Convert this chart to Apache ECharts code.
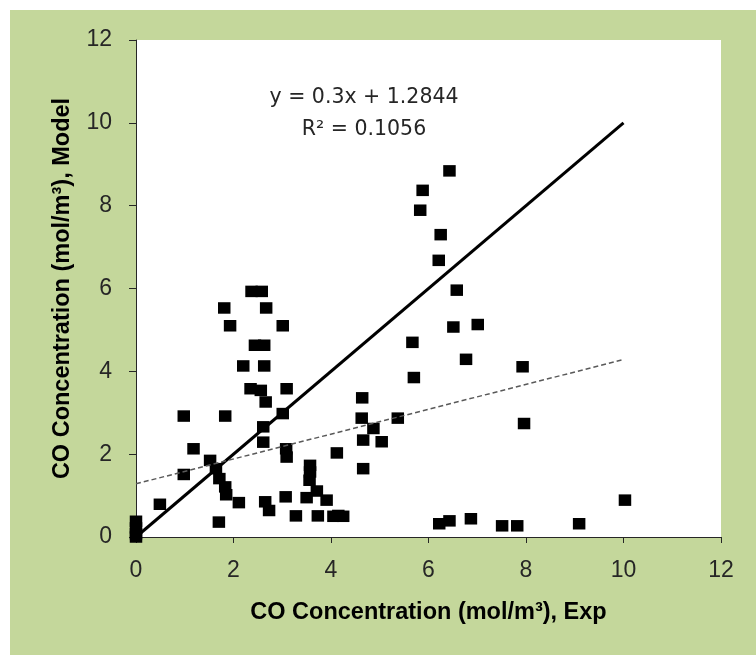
<!DOCTYPE html>
<html>
<head>
<meta charset="utf-8">
<script src="https://cdn.jsdelivr.net/npm/echarts@6/dist/echarts.min.js"></script>
<style>
  html, body { margin: 0; padding: 0; background: #ffffff; }
  #chart { width: 756px; height: 655px; }
</style>
</head>
<body>
<div id="chart"></div>
<script>
// Measured CO concentration (mol/m³) and the corresponding model prediction
const expCO = [
  0, 0, 0, 0, 0.49, 0.98, 0.98, 1.18, 1.52, 1.64,
  1.71, 1.83, 1.85, 2.11, 1.70, 1.81, 1.93, 1.83, 2.20, 2.37,
  2.58, 2.67, 2.44, 2.63, 2.63, 2.35, 2.56, 2.66, 2.61, 2.61,
  2.65, 2.73, 3.01, 3.09, 3.01, 3.08, 3.09, 3.07, 3.28, 3.57,
  3.57, 3.56, 3.50, 3.71, 3.73, 3.91, 4.05, 4.15, 4.25, 4.12,
  4.64, 4.63, 4.66, 4.66, 4.87, 5.04, 5.37, 5.67, 5.70, 6.58,
  6.51, 7.01, 6.77, 7.93, 7.96, 6.22, 6.43, 6.87, 7.51, 7.82,
  9.09, 10.03, 6.43, 5.88, 5.83, 6.25, 6.21
];
const modelCO = [
  0.38, 0.22, 0.08, 0, 0.79, 2.92, 1.51, 2.13, 1.85, 1.65,
  1.41, 1.21, 1.02, 0.83, 0.36, 5.53, 5.10, 2.92, 4.13, 5.93,
  5.93, 5.53, 4.63, 4.63, 4.13, 3.58, 3.54, 3.26, 2.66, 2.29,
  0.85, 0.64, 5.10, 3.58, 2.98, 2.13, 1.93, 0.97, 0.51, 1.73,
  1.57, 1.37, 0.95, 1.11, 0.51, 0.89, 0.50, 0.52, 0.50, 2.03,
  3.36, 2.87, 2.34, 1.65, 2.62, 2.30, 2.87, 4.70, 3.85, 5.96,
  5.07, 5.13, 4.29, 4.11, 2.74, 0.32, 0.39, 0.44, 0.27, 0.27,
  0.32, 0.89, 8.84, 8.37, 7.89, 7.30, 6.68
];

// Reference line y = x and the fitted linear trend
const parityX = [0, 10];
const trendSlope = 0.3;
const trendIntercept = 1.2844;
const trendR2 = 0.1056;
const trendX = [0, 10];

const axisTicks = [0, 2, 4, 6, 8, 10, 12];

const points = expCO.map((x, i) => [x, modelCO[i]]);
const parity = parityX.map(x => [x, x]);
const trend = trendX.map(x => [x, trendSlope * x + trendIntercept]);

const chart = echarts.init(document.getElementById('chart'), null, { renderer: 'canvas' });

const tickFont = { fontFamily: 'Liberation Sans', fontSize: 23, color: '#262626' };
const titleFont = { fontFamily: 'Liberation Sans', fontSize: 23.5, fontWeight: 'bold', color: '#000000' };
const axisLineStyle = { color: '#262626', width: 1 };

chart.setOption({
  animation: false,
  backgroundColor: '#ffffff',
  graphic: [
    {
      type: 'rect',
      z: -10,
      shape: { x: 10, y: 10, width: 746, height: 645 },
      style: { fill: '#c4d79b' }
    },
    {
      type: 'text',
      z: 10,
      x: 364,
      y: 82,
      style: {
        text: 'y = ' + trendSlope + 'x + ' + trendIntercept + '\nR² = ' + trendR2,
        fontFamily: 'DejaVu Sans',
        fontSize: 20.5,
        lineHeight: 32,
        fill: '#262626',
        align: 'center'
      }
    }
  ],
  grid: {
    left: 136, right: 35, top: 40, bottom: 118,
    show: true, backgroundColor: '#ffffff', borderWidth: 0
  },
  xAxis: {
    type: 'value', min: 0, max: 12, interval: 2,
    name: 'CO Concentration (mol/m³), Exp',
    nameLocation: 'middle', nameGap: 64,
    nameTextStyle: titleFont,
    axisLine: { show: true, onZero: false, lineStyle: axisLineStyle },
    axisTick: { show: true, length: 6, lineStyle: axisLineStyle },
    axisLabel: Object.assign({ margin: 22, formatter: v => axisTicks.includes(v) ? String(v) : '' }, tickFont),
    splitLine: { show: false }
  },
  yAxis: {
    type: 'value', min: 0, max: 12, interval: 2,
    name: 'CO Concentration (mol/m³), Model',
    nameLocation: 'middle', nameGap: 61,
    nameTextStyle: titleFont,
    axisLine: { show: true, onZero: false, lineStyle: axisLineStyle },
    axisTick: { show: true, length: 7, lineStyle: axisLineStyle },
    axisLabel: Object.assign({ margin: 24, formatter: v => axisTicks.includes(v) ? String(v) : '' }, tickFont),
    splitLine: { show: false }
  },
  series: [
    {
      name: 'Model vs Exp',
      type: 'scatter',
      data: points,
      symbol: 'rect',
      symbolSize: [12.5, 11.5],
      itemStyle: { color: '#000000', opacity: 1 },
      z: 3
    },
    {
      name: 'y = x',
      type: 'line',
      data: parity,
      symbol: 'none',
      lineStyle: { color: '#000000', width: 3 },
      z: 4
    },
    {
      name: 'Linear trend',
      type: 'line',
      data: trend,
      symbol: 'none',
      lineStyle: { color: '#595959', width: 1.5, type: [5, 3] },
      z: 4
    }
  ]
});
</script>
</body>
</html>
